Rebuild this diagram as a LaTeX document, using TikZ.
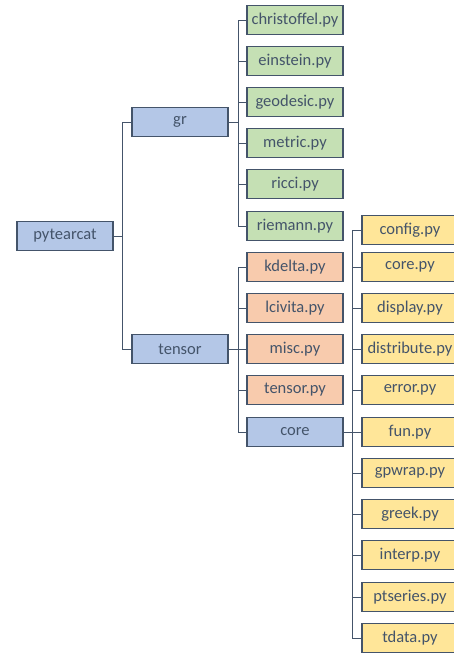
\documentclass[tikz,border=0pt]{standalone}
\usepackage{fontspec}
\setmainfont{Carlito}
\usepackage{tikz}
\usetikzlibrary{positioning}
\definecolor{boxline}{HTML}{44546A}
\definecolor{pkgblue}{HTML}{B4C7E7}
\definecolor{modgreen}{HTML}{C5E0B4}
\definecolor{modorange}{HTML}{F8CBAD}
\definecolor{modyellow}{HTML}{FFE699}
\tikzstyle{file} = [draw=boxline,line width=1.3pt,text=boxline,minimum width=96pt,minimum height=29pt,inner sep=0pt,font=\fontsize{16.5}{18}\selectfont]
\tikzstyle{pkg} = [file,fill=pkgblue]
\tikzstyle{link} = [draw=boxline,line width=0.9pt]

\begin{document}
\begin{tikzpicture}[x=1pt,y=-1pt]
    \useasboundingbox (0,0) rectangle (454,654);
    \clip (0,0) rectangle (454,654);
    % packages
    \node[pkg] (pytearcat) at (65,236) {pytearcat};
    \node[pkg] (gr) at (180,122) {gr};
    \node[pkg] (tensor) at (180,349) {tensor};
    \node[pkg] (core) at (295,432) {core};

    % bus coordinates
    \coordinate (rootbus) at (122,236);
    \coordinate (grbus) at (238,122);
    \coordinate (tensorbus) at (238,349);
    \coordinate (corebus) at (352,432);

    % gr modules
    \foreach \name/\y in {christoffel/20,einstein/61,geodesic/102,metric/143,ricci/184,riemann/226}{
        \node[file,fill=modgreen] (\name) at (295,\y) {\name.py};
        \draw[link] (\name.west) -| (grbus);
    }
    % tensor modules
    \foreach \name/\y in {kdelta/267,lcivita/308,misc/349,tensor/390}{
        \node[file,fill=modorange] (t\name) at (295,\y) {\name.py};
        \draw[link] (t\name.west) -| (tensorbus);
    }
    % core modules
    \foreach \name/\y in {config/230,core/267,display/308,distribute/349,error/390,fun/432,gpwrap/473,greek/514,interp/555,ptseries/597,tdata/638}{
        \node[file,fill=modyellow] (c\name) at (410,\y) {\name.py};
        \draw[link] (c\name.west) -| (corebus);
    }

    \draw[link] (pytearcat.east) -- (rootbus);
    \draw[link] (gr.west) -| (rootbus);
    \draw[link] (tensor.west) -| (rootbus);
    \draw[link] (gr.east) -- (grbus);
    \draw[link] (tensor.east) -- (tensorbus);
    \draw[link] (core.west) -| (tensorbus);
    \draw[link] (core.east) -- (corebus);
\end{tikzpicture}
\end{document}
